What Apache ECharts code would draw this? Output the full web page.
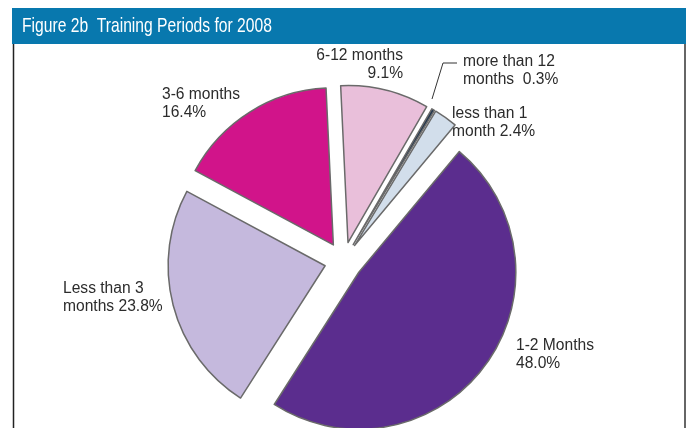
<!DOCTYPE html>
<html>
<head>
<meta charset="utf-8">
<script src="https://cdn.jsdelivr.net/npm/echarts@6/dist/echarts.min.js"></script>
<style>
  html, body { margin: 0; padding: 0; background: #fff; }
  #chart { width: 692px; height: 428px; }
</style>
</head>
<body>
<div id="chart"></div>
<script>
// training periods, clockwise from the big slice
var categories = ['1-2 Months', 'Less than 3\nmonths', '3-6 months', '6-12 months', 'more than 12\nmonths ', 'less than 1\nmonth']
var shares = [48.0, 23.8, 16.4, 9.1, 0.3, 2.4]
var sliceColors = ['#5b2d8e', '#c5b9dd', '#d1148a', '#e9bfda', '#23374f', '#d2deeb']

// where each label sits (left/right edge, top of text block)
var labelSpots = [
  {x: 516, y: 337, align: 'left'},
  {x: 63, y: 280, align: 'left'},
  {x: 162, y: 86, align: 'left'},
  {x: 403, y: 47, align: 'right'},
  {x: 463, y: 53, align: 'left'},
  {x: 452, y: 105, align: 'left'}
]

var chart = echarts.init(document.getElementById('chart'))

var pieData = categories.map(function (name, i) {
  return {
    name: name,
    value: shares[i],
    selected: true,
    itemStyle: { color: sliceColors[i] }
  }
})

// labels as plain text, the pie's own layout keeps pushing them around
var labelTexts = categories.map(function (name, i) {
  var sep = name.indexOf('\n') >= 0 ? ' ' : '\n'
  var spot = labelSpots[i]
  return {
    type: 'text',
    x: spot.x,
    y: spot.y,
    silent: true,
    style: {
      text: name + sep + shares[i].toFixed(1) + '%',
      fill: '#2b2b2b',
      font: '15.6px "Liberation Sans", Arial, sans-serif',
      lineHeight: 18,
      align: spot.align,
      verticalAlign: 'top'
    }
  }
})

chart.setOption({
  animation: false,
  graphic: [
    {
      type: 'rect',
      shape: { x: 12, y: 8, width: 674, height: 36 },
      style: { fill: '#0878ae' },
      silent: true
    },
    {
      type: 'text',
      x: 22,
      y: 16,
      scaleX: 0.745,
      style: {
        text: 'Figure 2b  Training Periods for 2008',
        fill: '#ffffff',
        font: '21px "Liberation Sans", Arial, sans-serif',
        verticalAlign: 'top'
      }
    },
    {
      type: 'line',
      shape: { x1: 13.5, y1: 44, x2: 13.5, y2: 428 },
      style: { stroke: '#222', lineWidth: 1.5 }
    },
    {
      type: 'line',
      shape: { x1: 685, y1: 44, x2: 685, y2: 428 },
      style: { stroke: '#666', lineWidth: 2 }
    },
    {
      type: 'polyline',
      shape: { points: [[432, 99], [443, 63], [457, 63]] },
      style: { stroke: '#333', lineWidth: 1, fill: null }
    }
  ].concat(labelTexts),
  series: [
    {
      type: 'pie',
      center: [343.5, 261],
      radius: 157,
      startAngle: 50.2,
      clockwise: true,
      selectedMode: 'multiple',
      selectedOffset: 19,
      emphasis: { disabled: true },
      itemStyle: {
        borderColor: '#6a6a6a',
        borderWidth: 1.5
      },
      label: { show: false },
      labelLine: { show: false },
      data: pieData
    }
  ]
})
</script>
</body>
</html>
